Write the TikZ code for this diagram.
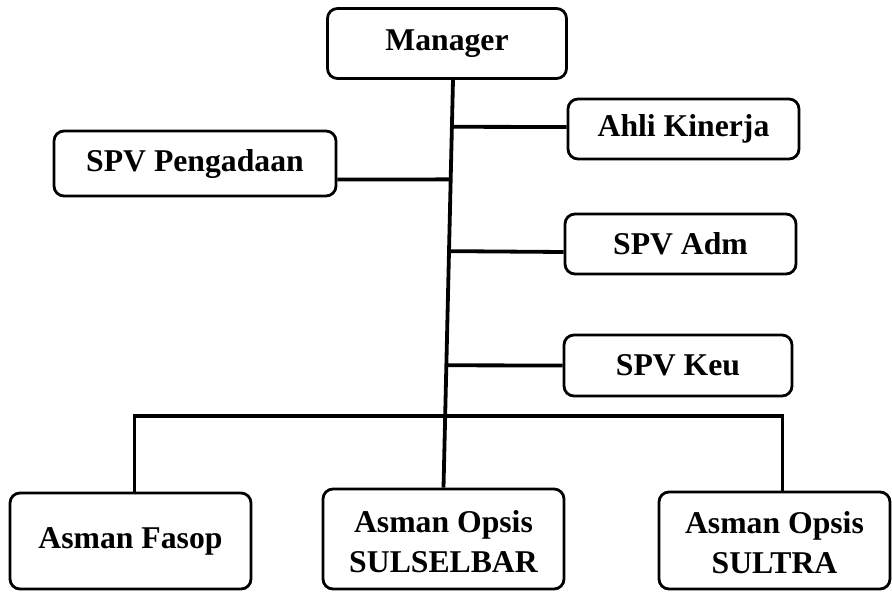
\documentclass[tikz,border=0pt]{standalone}
\usepackage{fontspec}
\setmainfont{Liberation Serif}
% two-line label, set a little low in its box
\newcommand{\lowpair}[2]{\raisebox{0pt}[\dimexpr\height+10pt\relax][\depth]{\begin{tabular}{@{}c@{}}#1\\#2\end{tabular}}}
\begin{document}
\begin{tikzpicture}[x=1pt,y=-1pt,
  unit/.style={draw=black, line width=2.8pt, rounded corners=10pt, fill=white,
    inner sep=0pt, align=center,
    font=\fontsize{31.7}{40}\selectfont\bfseries},
  link/.style={draw=black, line width=3.8pt}]
\useasboundingbox (0,0) rectangle (892,592);

% boxes
\node[unit, minimum width=239pt, minimum height=70pt] (Manager) at (447,43.5) {Manager};
\node[unit, minimum width=231pt, minimum height=60pt] (Ahli) at (683.5,129) {Ahli Kinerja};
\node[unit, minimum width=282pt, minimum height=65pt] (Pengadaan) at (195,163.5) {SPV Pengadaan};
\node[unit, minimum width=231pt, minimum height=60pt] (Adm) at (680.5,244) {SPV Adm};
\node[unit, minimum width=228pt, minimum height=61pt] (Keu) at (678,365.5) {SPV Keu};
\node[unit, minimum width=241pt, minimum height=96pt] (Fasop) at (130.5,541) {Asman Fasop};
\node[unit, minimum width=241pt, minimum height=100pt] (Sulselbar) at (443.5,539) {\lowpair{Asman Opsis}{SULSELBAR}};
\node[unit, minimum width=231pt, minimum height=97pt] (Sultra) at (774.5,540.5) {\lowpair{Asman Opsis}{SULTRA}};

% main trunk and the points where branches leave it
\path ([xshift=6pt]Manager.south) -- (Sulselbar.north)
  coordinate[pos=0.115] (tAhli)
  coordinate[pos=0.244] (tPeng)
  coordinate[pos=0.42]  (tAdm)
  coordinate[pos=0.70]  (tKeu)
  coordinate[pos=0.824] (tBus);

\draw[link] ([xshift=6pt]Manager.south) -- (Sulselbar.north);
\draw[link] (tAhli) -- ([yshift=2pt]Ahli.west);
\draw[link] (tPeng) -- ([yshift=-16pt]Pengadaan.east);
\draw[link] (tAdm) -- ([yshift=-8pt]Adm.west);
\draw[link] (tKeu) -- (Keu.west);
\draw[link, line join=miter] ([xshift=4pt]Fasop.north) |- (tBus) -| ([xshift=8pt]Sultra.north);
\end{tikzpicture}
\end{document}
